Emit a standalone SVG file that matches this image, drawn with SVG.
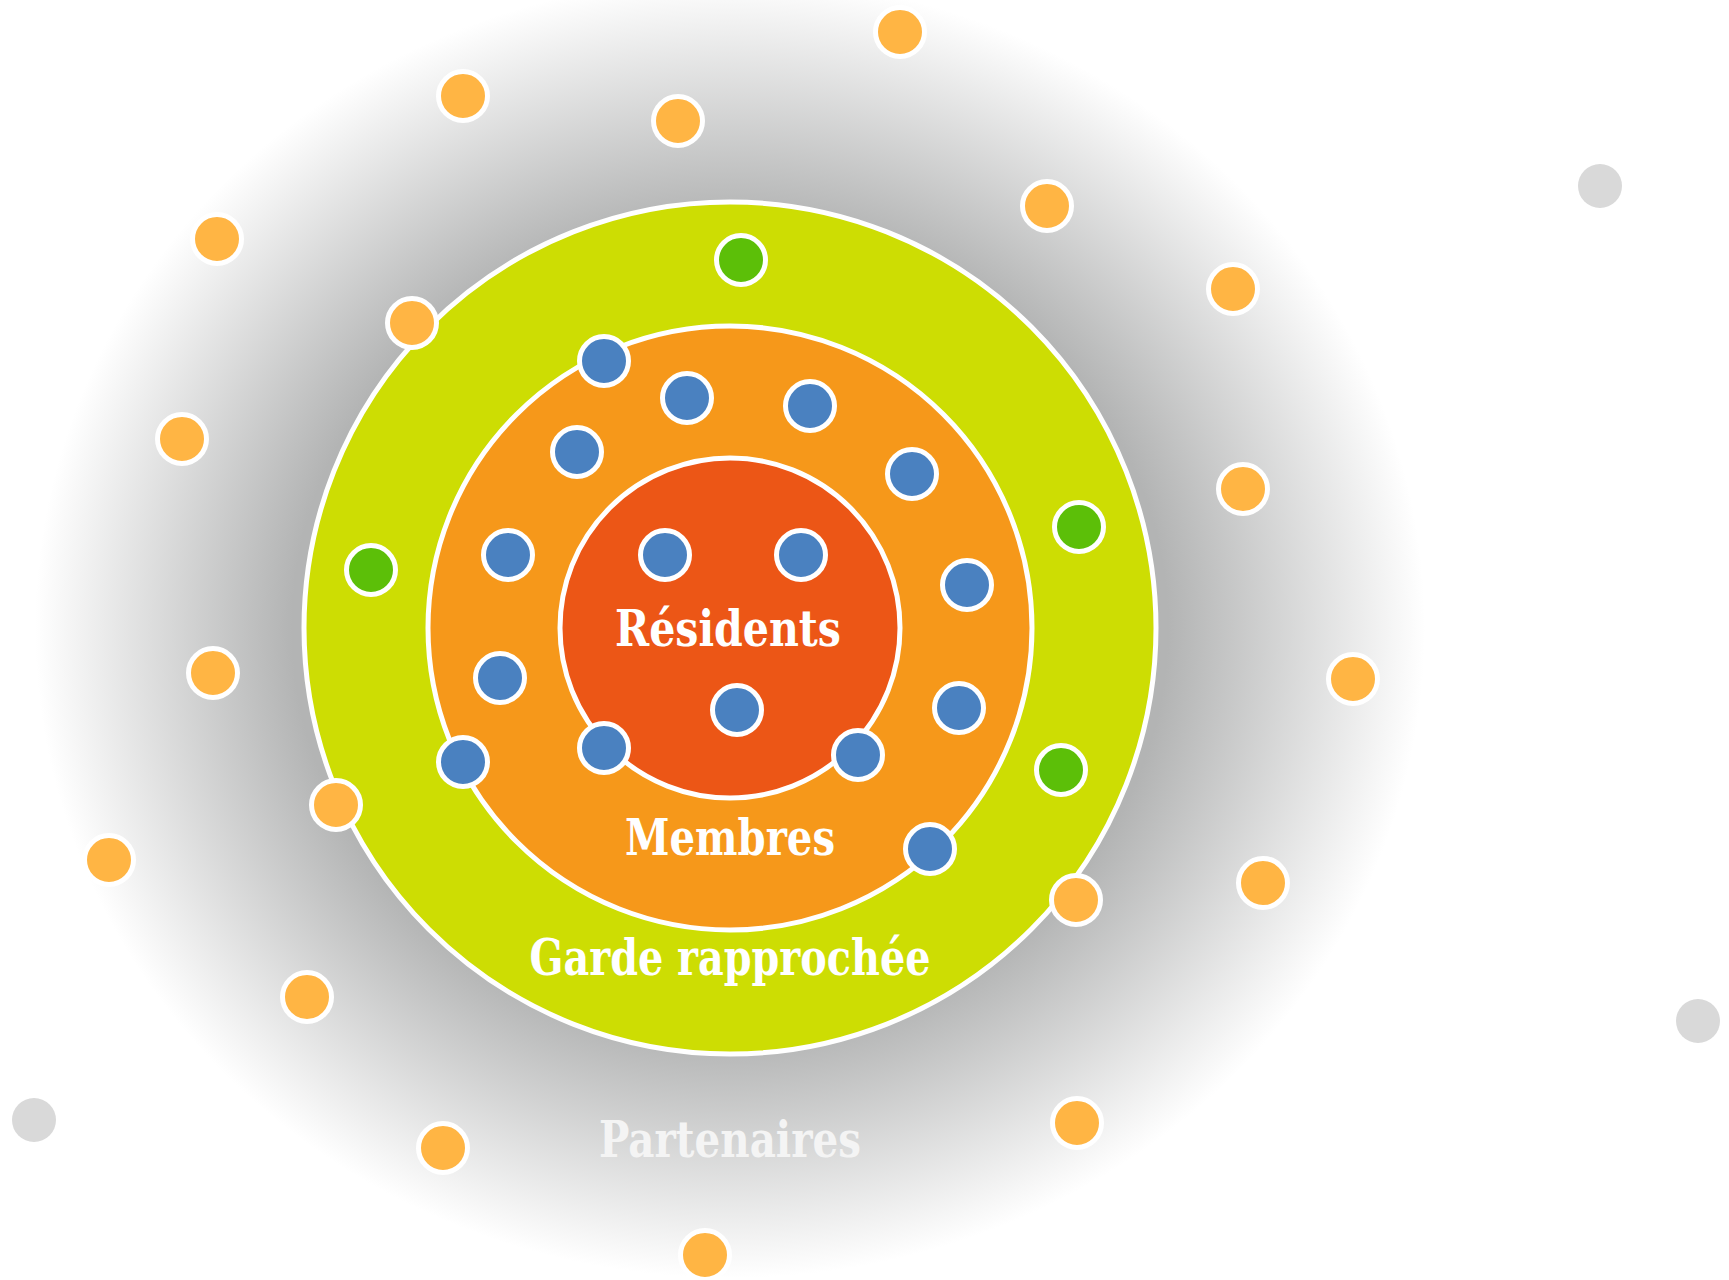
<svg xmlns="http://www.w3.org/2000/svg" width="1729" height="1280" viewBox="0 0 1729 1280">
  <style>
    .ring { stroke: #ffffff; stroke-width: 5; }
    .dot { stroke: #ffffff; stroke-width: 5; }
    .partner { fill: #ffb544; }
    .guard { fill: #5cbf08; }
    .member { fill: #4a81c0; }
    .outside { fill: #d9d9d9; stroke: none; }
    .label { font-family: "DejaVu Serif", "Liberation Serif", serif; font-weight: bold; font-size: 50px; text-anchor: middle; fill: #ffffff; }
  </style>
  <defs>
    <radialGradient id="halo" cx="0.5" cy="0.5" r="0.5">
      <stop offset="0" stop-color="#b3b3b3"/>
      <stop offset="0.63" stop-color="#b3b4b4"/>
      <stop offset="1" stop-color="#ffffff"/>
    </radialGradient>
  </defs>
  <rect x="0" y="0" width="1729" height="1280" fill="#ffffff"/>

  <g id="zone-partenaires">
    <ellipse cx="730" cy="628" rx="695" ry="650" fill="url(#halo)"/>
    <text class="label" x="730" y="1157" style="fill:#f4f4f4" textLength="262" lengthAdjust="spacingAndGlyphs">Partenaires</text>
  </g>

  <g id="zone-garde">
    <circle class="ring" cx="730" cy="628" r="426" fill="#cddd03"/>
    <text class="label" x="730" y="975" textLength="401" lengthAdjust="spacingAndGlyphs">Garde rapprochée</text>
  </g>

  <g id="zone-membres">
    <circle class="ring" cx="730" cy="628" r="302" fill="#f6981a"/>
    <text class="label" x="730" y="855" textLength="210" lengthAdjust="spacingAndGlyphs">Membres</text>
  </g>

  <g id="zone-residents">
    <circle class="ring" cx="730" cy="628" r="170" fill="#ec5616"/>
    <text class="label" x="728" y="646" textLength="226" lengthAdjust="spacingAndGlyphs">Résidents</text>
  </g>

  <g id="connectors"></g>

  <g id="partenaires-dots">
    <circle class="dot partner" cx="900" cy="32" r="24.5"/>
    <circle class="dot partner" cx="463" cy="96" r="24.5"/>
    <circle class="dot partner" cx="678" cy="121" r="24.5"/>
    <circle class="dot partner" cx="1047" cy="206" r="24.5"/>
    <circle class="dot partner" cx="217" cy="239" r="24.5"/>
    <circle class="dot partner" cx="1233" cy="289" r="24.5"/>
    <circle class="dot partner" cx="412" cy="323" r="24.5"/>
    <circle class="dot partner" cx="182" cy="439" r="24.5"/>
    <circle class="dot partner" cx="1243" cy="489" r="24.5"/>
    <circle class="dot partner" cx="1353" cy="679" r="24.5"/>
    <circle class="dot partner" cx="213" cy="673" r="24.5"/>
    <circle class="dot partner" cx="336" cy="805" r="24.5"/>
    <circle class="dot partner" cx="109" cy="860" r="24.5"/>
    <circle class="dot partner" cx="1263" cy="883" r="24.5"/>
    <circle class="dot partner" cx="1076" cy="900" r="24.5"/>
    <circle class="dot partner" cx="307" cy="997" r="24.5"/>
    <circle class="dot partner" cx="1077" cy="1123" r="24.5"/>
    <circle class="dot partner" cx="443" cy="1148" r="24.5"/>
    <circle class="dot partner" cx="705" cy="1255" r="24.5"/>
  </g>

  <g id="outside-dots">
    <circle class="outside" cx="1600" cy="186" r="22"/>
    <circle class="outside" cx="1698" cy="1021" r="22"/>
    <circle class="outside" cx="34" cy="1120" r="22"/>
  </g>

  <g id="garde-dots">
    <circle class="dot guard" cx="741" cy="260" r="24.5"/>
    <circle class="dot guard" cx="371" cy="570" r="24.5"/>
    <circle class="dot guard" cx="1079" cy="527" r="24.5"/>
    <circle class="dot guard" cx="1061" cy="770" r="24.5"/>
  </g>

  <g id="membres-dots">
    <circle class="dot member" cx="604" cy="361" r="24.5"/>
    <circle class="dot member" cx="687" cy="398" r="24.5"/>
    <circle class="dot member" cx="810" cy="406" r="24.5"/>
    <circle class="dot member" cx="577" cy="452" r="24.5"/>
    <circle class="dot member" cx="912" cy="474" r="24.5"/>
    <circle class="dot member" cx="508" cy="555" r="24.5"/>
    <circle class="dot member" cx="665" cy="555" r="24.5"/>
    <circle class="dot member" cx="801" cy="555" r="24.5"/>
    <circle class="dot member" cx="967" cy="585" r="24.5"/>
    <circle class="dot member" cx="500" cy="678" r="24.5"/>
    <circle class="dot member" cx="959" cy="708" r="24.5"/>
    <circle class="dot member" cx="737" cy="710" r="24.5"/>
    <circle class="dot member" cx="604" cy="748" r="24.5"/>
    <circle class="dot member" cx="463" cy="762" r="24.5"/>
    <circle class="dot member" cx="858" cy="755" r="24.5"/>
    <circle class="dot member" cx="930" cy="849" r="24.5"/>
  </g>
</svg>
